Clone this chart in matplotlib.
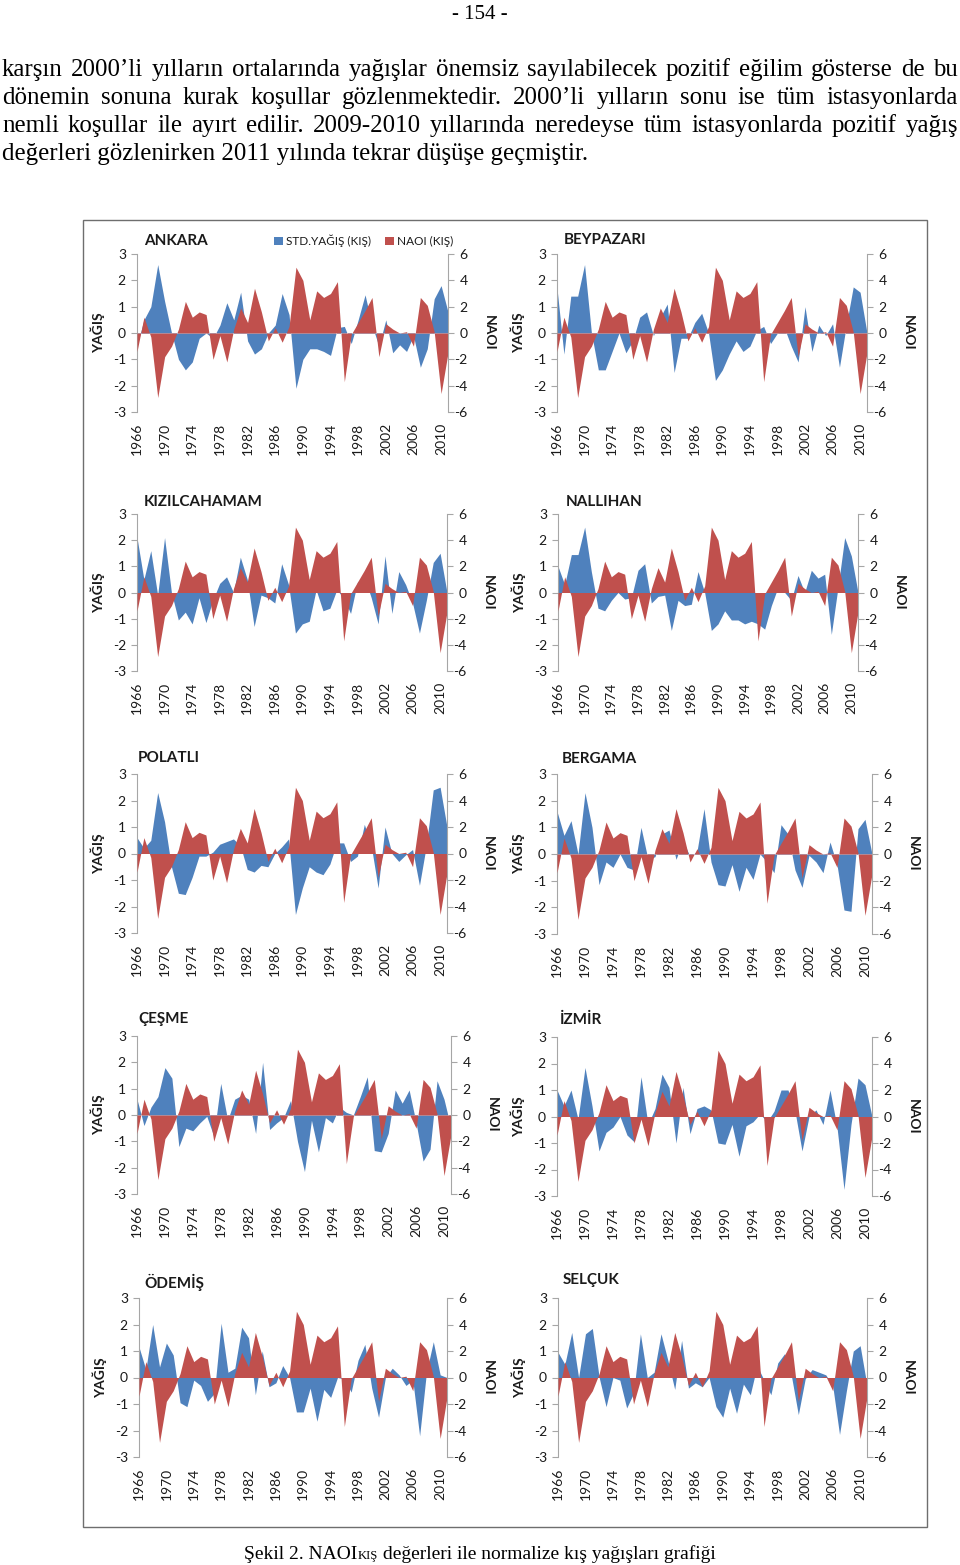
import matplotlib
matplotlib.use("Agg")
import matplotlib.pyplot as plt
from matplotlib.patches import Rectangle

plt.rcParams["axes.unicode_minus"] = False

# --- data -------------------------------------------------------------
years = list(range(1966, 2012))
year_ticks = years[::4]

naoi = [-1.4, 1.2, -0.3, -4.9, -1.8, -1.0, 0.3, 2.4, 1.2, 1.6,
        1.4, -2.0, -0.2, -2.2, 0.3, 1.9, 0.8, 3.4, 1.6, -0.6,
        0.4, -0.7, 0.5, 5.0, 4.0, 1.0, 3.2, 2.7, 3.0, 3.9,
        -3.7, -0.1, 0.8, 1.7, 2.7, -1.8, 0.7, 0.3, 0.0, 0.1,
        -1.0, 2.7, 2.1, 0.1, -4.6, -1.5]

ankara = [-0.5, 0.5, 1.0, 2.6, 1.2, 0.0, -1.0, -1.4, -1.1, -0.2,
          0.0, -0.2, 0.3, 1.15, 0.5, 1.55, -0.3, -0.8, -0.6, 0.0,
          0.3, 1.5, 0.7, -2.1, -1.0, -0.6, -0.6, -0.7, -0.85, 0.2,
          0.25, -0.4, 0.5, 1.45, 0.3, -0.5, 0.5, -0.75, -0.45, -0.7,
          -0.1, -1.3, -0.6, 1.3, 1.8, 0.8]
beypazari = [1.7, -0.8, 1.4, 1.4, 2.6, 0.0, -1.4, -1.4, -0.7, 0.0,
             -0.75, -0.3, 0.6, 0.8, -0.1, 0.6, 1.1, -1.5, -0.2, -0.2,
             0.4, 0.75, 0.0, -1.8, -1.4, -0.8, -0.3, -0.7, -0.5, 0.1,
             0.25, -0.4, 0.0, 0.2, -0.5, -1.1, 1.0, -0.7, 0.3, -0.1,
             0.35, -1.3, 0.3, 1.75, 1.55, 0.0]
kizilcahamam = [2.1, 0.5, 1.6, -0.1, 2.1, 0.0, -1.05, -0.75, -1.2, -0.2,
                -1.15, -0.3, 0.35, 0.6, 0.0, 1.35, 0.5, -1.3, -0.1, -0.2,
                -0.4, 1.1, 0.3, -1.55, -1.2, -1.1, 0.1, -0.7, -0.6, 0.1,
                -0.2, -0.8, 0.4, 0.6, -0.2, -1.2, 1.4, -0.8, 0.8, 0.3,
                -0.4, -1.55, -0.3, 1.15, 1.5, 0.0]
nallihan = [1.0, 0.3, 1.45, 1.45, 2.5, 0.8, -0.6, -0.7, -0.3, 0.0,
            -0.25, -0.2, 0.85, 1.1, -0.4, -0.15, -0.1, -1.45, -0.3, -0.5,
            -0.45, 0.8, 0.0, -1.45, -1.2, -0.7, -1.05, -1.05, -1.2, -1.1,
            -1.2, -1.4, -0.5, 0.2, 0.0, -0.3, 0.65, 0.0, 0.85, 0.55,
            0.7, -1.6, 0.2, 2.1, 1.4, 0.0]
polatli = [0.6, 0.2, 0.5, 2.3, 1.2, -0.5, -1.5, -1.55, -0.9, -0.1,
           -0.1, 0.05, 0.35, 0.45, 0.55, 0.3, -0.6, -0.7, -0.45, -0.5,
           0.0, 0.25, 0.55, -2.3, -1.3, -0.5, -0.7, -0.8, -0.4, 0.4,
           0.4, -0.3, -0.1, 1.1, 0.3, -1.3, 1.0, 0.0, -0.3, -0.05,
           0.15, -1.2, 0.3, 2.4, 2.5, 1.0]
bergama = [1.6, 0.7, 1.25, 0.0, 2.3, 1.0, -1.15, -0.3, -0.5, 0.0,
           -0.5, -0.6, 1.0, -0.2, -0.1, 0.75, 0.9, -0.2, 0.5, -0.1,
           0.1, 1.7, -0.3, -1.15, -1.2, -0.4, -1.4, -0.5, -0.95, 0.0,
           -0.3, -0.7, 1.1, 0.75, -0.6, -1.25, -0.05, -0.3, -0.7, 0.45,
           -0.4, -2.1, -2.15, 0.95, 1.3, 0.0]
cesme = [0.6, -0.4, 0.3, 0.7, 1.8, 1.4, -1.2, -0.5, -0.6, -0.3,
         -0.05, -0.8, 1.2, -0.2, 0.6, 0.75, 0.6, -0.7, 2.0, -0.55,
         -0.3, -0.1, 0.55, -1.0, -2.15, -0.2, -1.4, -0.1, -0.3, 0.3,
         0.1, 0.0, 0.7, 1.45, -1.35, -1.4, -0.7, 0.95, 0.45, 0.95,
         -0.3, -1.75, -1.3, 1.3, 0.6, -0.5]
izmir = [1.0, 0.4, 1.0, -0.1, 1.85, 0.4, -1.3, -0.6, -0.4, 0.0,
         -0.7, -0.95, 1.5, -0.3, 0.3, 1.6, 1.1, -1.0, 1.1, -0.65,
         0.3, 0.4, 0.25, -1.0, -1.05, -0.3, -1.5, -0.35, -0.2, 0.1,
         -0.2, 0.2, 1.0, 1.0, 0.2, -1.3, 0.0, 0.25, -0.3, 1.0,
         -0.4, -2.75, -0.3, 1.45, 1.2, 0.0]
odemis = [1.15, 0.3, 2.0, 0.4, 1.3, 0.85, -0.95, -1.1, -0.1, -0.3,
          -0.9, -0.6, 2.05, 0.2, 0.35, 1.9, 1.5, -0.65, 1.0, -0.35,
          -0.2, 0.45, 0.0, -1.3, -1.3, -0.4, -1.65, -0.45, -0.75, 0.0,
          -0.05, -0.55, 0.65, 1.25, -0.4, -1.5, 0.0, 0.35, 0.1, -0.3,
          -0.1, -2.2, 0.2, 1.35, 0.1, 0.0]
selcuk = [0.95, 0.5, 1.7, 0.0, 1.65, 1.85, 0.0, -1.1, 0.0, -0.1,
          -1.15, -0.6, 1.65, 0.0, 0.2, 1.65, 0.65, -0.45, 1.4, -0.4,
          -0.2, -0.35, 0.0, -1.1, -1.5, -0.4, -1.35, -0.25, -0.65, 0.45,
          -0.1, -0.65, 0.55, 0.9, 0.05, -1.4, -0.05, 0.3, 0.2, 0.1,
          -0.3, -2.15, -0.5, 1.0, 1.2, -0.3]

stations = ["ANKARA", "BEYPAZARI", "KIZILCAHAMAM", "NALLIHAN", "POLATLI",
            "BERGAMA", "ÇEŞME", "İZMİR", "ÖDEMİŞ", "SELÇUK"]
rain = [ankara, beypazari, kizilcahamam, nallihan, polatli,
        bergama, cesme, izmir, odemis, selcuk]

# --- layout (pixels: left, top, right, bottom) and title anchors -------
W, H = 960, 1565
panels = [(137, 254, 448, 412), (557, 254, 867, 412),
          (137, 514, 447, 671), (558, 514, 858, 671),
          (137, 774, 447, 933), (557, 774, 872, 934),
          (137, 1036, 451, 1194), (557, 1037, 872, 1196),
          (139, 1298, 447, 1457), (558, 1298, 867, 1457)]
titles_xy = [(144, 241), (564, 240), (144, 502), (566, 502), (138, 758),
             (562, 759), (138, 1019), (560, 1020), (144, 1282), (563, 1280)]

BLUE = "#4f81bd"
RED = "#c0504d"
AXC = "#a6a6a6"
TXT = "#1a1a1a"
SANS = ["Lato", "DejaVu Sans"]
SERIF = ["Liberation Serif", "DejaVu Serif"]


def fx(x):
    return x / W


def fy(y):
    return 1 - y / H


fig = plt.figure(figsize=(W / 100, H / 100), dpi=100)
renderer = fig.canvas.get_renderer()


def text_width(s, size, family):
    t = fig.text(0, 0, s, fontsize=size, family=family)
    w = t.get_window_extent(renderer).width
    t.remove()
    return w


# --- page text ---------------------------------------------------------
fig.text(0.5, fy(19), "- 154 -", ha="center", va="baseline",
         fontsize=15, family=SERIF)

lines = [
    "karşın 2000’li yılların ortalarında yağışlar önemsiz sayılabilecek pozitif eğilim gösterse de bu",
    "dönemin sonuna kurak koşullar gözlenmektedir. 2000’li yılların sonu ise tüm istasyonlarda",
    "nemli koşullar ile ayırt edilir. 2009-2010 yıllarında neredeyse tüm istasyonlarda pozitif yağış",
    "değerleri gözlenirken 2011 yılında tekrar düşüşe geçmiştir.",
]
psize = 12 * 583 / text_width(lines[-1], 12, SERIF)
baselines = [76, 104, 132, 160]
for line, yb in zip(lines[:-1], baselines[:-1]):
    words = line.split()
    widths = [text_width(w, psize, SERIF) for w in words]
    gap = (956 - sum(widths)) / (len(words) - 1)
    x = 2
    for w, wd in zip(words, widths):
        fig.text(fx(x), fy(yb), w, ha="left", va="baseline",
                 fontsize=psize, family=SERIF)
        x += wd + gap
fig.text(fx(2), fy(baselines[-1]), lines[-1], ha="left", va="baseline",
         fontsize=psize, family=SERIF)

# frame around the figure block
fig.add_artist(Rectangle((fx(83), fy(1527)), fx(927) - fx(83), fy(220) - fy(1527),
                         transform=fig.transFigure, fill=False,
                         edgecolor="#6e6e6e", linewidth=1.0))

# --- panels ------------------------------------------------------------
for name, vals, (l, t, r, b), (tx, ty) in zip(stations, rain, panels, titles_xy):
    ax = fig.add_axes([fx(l), fy(b), fx(r) - fx(l), fy(t) - fy(b)])
    blue = ax.fill_between(years, 0, vals, color=BLUE, linewidth=0,
                           label="STD.YAĞIŞ (KIŞ)")
    ax.set_xlim(years[0], years[-1])
    ax.set_ylim(-3, 3)
    ax.set_yticks(range(-3, 4))
    ax.set_xticks(year_ticks)
    ax.set_xticklabels([str(y) for y in year_ticks], rotation=90,
                       family=SANS, fontsize=10, color=TXT)
    ax.tick_params(axis="x", length=0, pad=8)
    ax.tick_params(axis="y", direction="out", length=4, width=0.8,
                   color=AXC, labelcolor=TXT, labelsize=10, pad=4)
    for lab in ax.get_yticklabels():
        lab.set_family(SANS)
    for s in ["top", "bottom", "right"]:
        ax.spines[s].set_visible(False)
    ax.spines["left"].set_color(AXC)
    ax.patch.set_visible(False)

    ax2 = ax.twinx()
    red = ax2.fill_between(years, 0, naoi, color=RED, linewidth=0,
                           label="NAOI (KIŞ)")
    ax2.set_ylim(-6, 6)
    ax2.set_yticks(range(-6, 7, 2))
    ax2.tick_params(axis="y", direction="out", length=4, width=0.8,
                    color=AXC, labelcolor=TXT, labelsize=10, pad=10)
    for lab in ax2.get_yticklabels():
        lab.set_family(SANS)
        lab.set_horizontalalignment("right")
    for s in ["top", "bottom", "left"]:
        ax2.spines[s].set_visible(False)
    ax2.spines["right"].set_color(AXC)

    mid = (t + b) / 2
    fig.text(fx(l - 39), fy(mid), "YAĞIŞ", rotation=90, ha="center", va="center",
             fontsize=10, fontweight="bold", family=SANS, color=TXT)
    fig.text(fx(r + 41), fy(mid), "NAOI", rotation=-90, ha="center", va="center",
             fontsize=10, fontweight="bold", family=SANS, color=TXT)
    fig.text(fx(tx), fy(ty), name, ha="left", va="center",
             fontsize=11, fontweight="bold", family=SANS, color=TXT)

    if name == "ANKARA":
        fig.legend(handles=[blue, red], loc="center",
                   bbox_to_anchor=(fx(364), fy(241)), ncol=2, frameon=False,
                   prop={"family": SANS, "size": 8.5}, handlelength=0.7,
                   handleheight=0.7, handletextpad=0.3, columnspacing=1.2,
                   borderpad=0, labelcolor=TXT)

# --- caption -----------------------------------------------------------
cap1 = "Şekil 2. NAOI"
cap2 = "KIŞ"
cap3 = " değerleri ile normalize kış yağışları grafiği"
base = 12
total = (text_width(cap1, base, SERIF) + text_width(cap2, base * 0.65, SERIF)
         + text_width(cap3, base, SERIF))
csize = base * 470 / total
w1 = text_width(cap1, csize, SERIF)
w2 = text_width(cap2, csize * 0.65, SERIF)
w3 = text_width(cap3, csize, SERIF)
x = 480 - (w1 + w2 + w3) / 2
fig.text(fx(x), fy(1559), cap1, ha="left", va="baseline", fontsize=csize, family=SERIF)
fig.text(fx(x + w1), fy(1559), cap2, ha="left", va="baseline",
         fontsize=csize * 0.65, family=SERIF)
fig.text(fx(x + w1 + w2), fy(1559), cap3, ha="left", va="baseline",
         fontsize=csize, family=SERIF)

fig.savefig("out.png", dpi=100)
